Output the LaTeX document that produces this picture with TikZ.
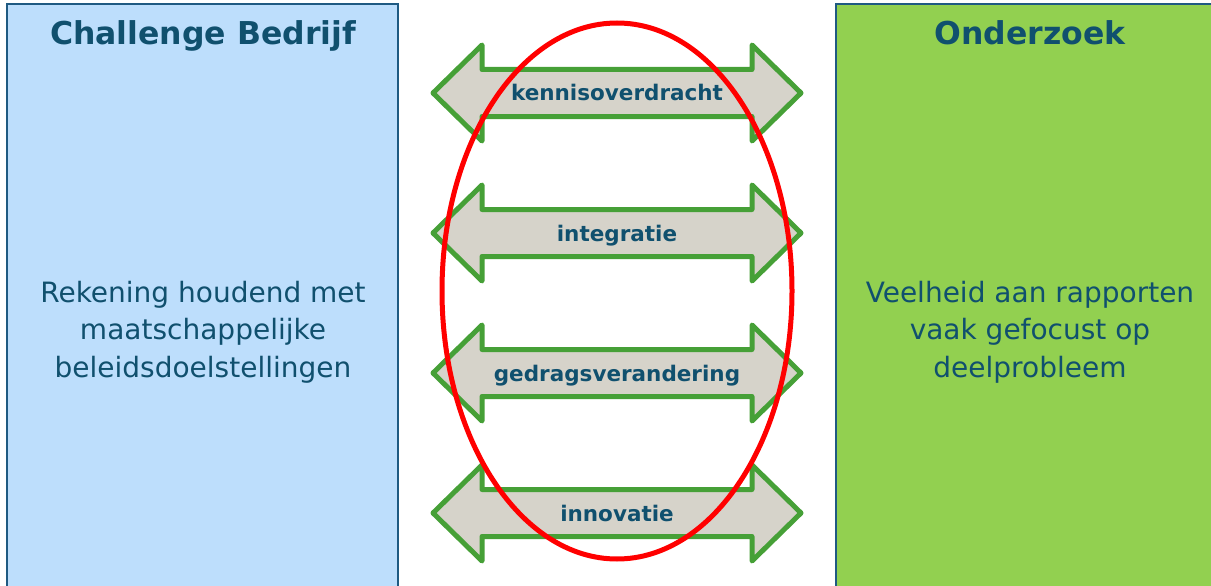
\documentclass[tikz,border=0pt]{standalone}
\usepackage{fontspec}
\setmainfont{DejaVu Sans}
\definecolor{kaderblauw}{RGB}{189,222,252}
\definecolor{kadergroen}{RGB}{146,208,80}
\definecolor{randblauw}{RGB}{31,90,130}
\definecolor{tekstblauw}{RGB}{16,80,110}
\definecolor{pijlgrijs}{RGB}{214,211,202}
\definecolor{pijlgroen}{RGB}{70,160,55}

\begin{document}
\begin{tikzpicture}[x=1pt,y=-1pt,
  kader/.style={draw=randblauw,line width=1.5pt},
  titel/.style={font=\bfseries\fontsize{31.5}{37}\selectfont,text=tekstblauw,anchor=base},
  tekst/.style={font=\fontsize{28}{37.5}\selectfont,text=tekstblauw,align=center,anchor=base},
  pijl/.style={draw=pijlgroen,fill=pijlgrijs,line width=5pt,line join=round},
  pijltekst/.style={font=\bfseries\fontsize{21.5}{25}\selectfont,text=tekstblauw,anchor=base}]
  \useasboundingbox (0,0) rectangle (1211,586);
  \clip (0,0) rectangle (1211,586);
  % kaders links en rechts
  \draw[kader,fill=kaderblauw] (7,4) rectangle (398,600);
  \draw[kader,fill=kadergroen] (836,4) rectangle (1230,600);
  \node[titel] (bedrijf) at (203,45) {Challenge Bedrijf};
  \node[titel] (onderzoek) at (1030,45) {Onderzoek};
  \node[tekst] (bedrijftekst) at (203,377) {Rekening houdend met\\maatschappelijke\\beleidsdoelstellingen};
  \node[tekst] (onderzoektekst) at (1030,377) {Veelheid aan rapporten\\vaak gefocust op\\deelprobleem};

  % dubbele pijlen
  \foreach \y/\naam/\woord in {93/kennis/kennisoverdracht,233/integratie/integratie,
                               373/gedrag/gedragsverandering,513/innovatie/innovatie}{
    \draw[pijl] (433,\y) -- (482,\y-48) -- (482,\y-23.5) -- (752,\y-23.5) -- (752,\y-48)
      -- (801,\y) -- (752,\y+48) -- (752,\y+23.5) -- (482,\y+23.5) -- (482,\y+48) -- cycle;
    \node[pijltekst] (\naam) at (617,\y+8) {\woord};
  }

  % rode ellips
  \draw[red,line width=5pt] (617,291) ellipse [x radius=175pt,y radius=268pt];
\end{tikzpicture}
\end{document}
